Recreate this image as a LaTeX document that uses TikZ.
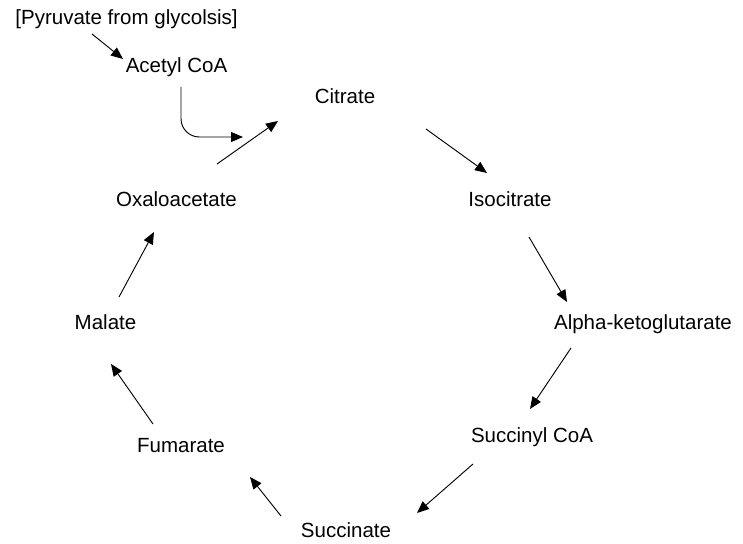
\documentclass[tikz,border=0pt]{standalone}
\usepackage{fontspec}
\setmainfont{Liberation Sans}
\usepackage{tikz}
\usetikzlibrary{arrows.meta,calc}

\begin{document}
\begin{tikzpicture}[
    x=0.03cm, y=-0.03cm,
    metab/.style={inner sep=0pt, text height=0.716em, text depth=0pt,
        font=\fontsize{17.5}{21}\selectfont},
    arrow/.style={-{Triangle[length=3.6mm,width=3mm]}, line width=0.8pt}
]
\useasboundingbox (0,0) rectangle (743,544);

% Metabolitos
\node[metab] (pyr) at (126.5,20) {[Pyruvate from glycolsis]};
\node[metab] (acc) at (176.5,68) {Acetyl CoA};
\node[metab] (cit) at (345,99) {Citrate};
\node[metab] (iso) at (510,202.5) {Isocitrate};
\node[metab] (akg) at (643,325) {Alpha-ketoglutarate};
\node[metab] (sca) at (532,438) {Succinyl CoA};
\node[metab] (suc) at (346,533) {Succinate};
\node[metab] (fum) at (181,448) {Fumarate};
\node[metab] (mal) at (105.5,325) {Malate};
\node[metab] (oxa) at (176.5,202.5) {Oxaloacetate};

% Entrada
\draw[arrow] ([shift={(-34.5,14)}]pyr.center) -- ([shift={(-53.5,-9)}]acc.center);
\draw[arrow, rounded corners=0.55cm] ([shift={(4.5,19)}]acc.center) |- ([shift={(-102,38)}]cit.center);

% Ciclo
\draw[arrow] ([shift={(40.5,-38.5)}]oxa.center) -- ([shift={(-67,22)}]cit.center);
\draw[arrow] ([shift={(81,30)}]cit.center) -- ([shift={(-23,-29.5)}]iso.center);
\draw[arrow] ([shift={(19,34.5)}]iso.center) -- ([shift={(-76,-23)}]akg.center);
\draw[arrow] ([shift={(-72,23)}]akg.center) -- ([shift={(-2,-29)}]sca.center);
\draw[arrow] ([shift={(-59,26)}]sca.center) -- ([shift={(71,-20)}]suc.center);
\draw[arrow] ([shift={(-65,-17)}]suc.center) -- ([shift={(69,29)}]fum.center);
\draw[arrow] ([shift={(-28,-24)}]fum.center) -- ([shift={(5.5,39)}]mal.center);
\draw[arrow] ([shift={(13.5,-28)}]mal.center) -- ([shift={(-22.5,29.5)}]oxa.center);

\end{tikzpicture}
\end{document}
